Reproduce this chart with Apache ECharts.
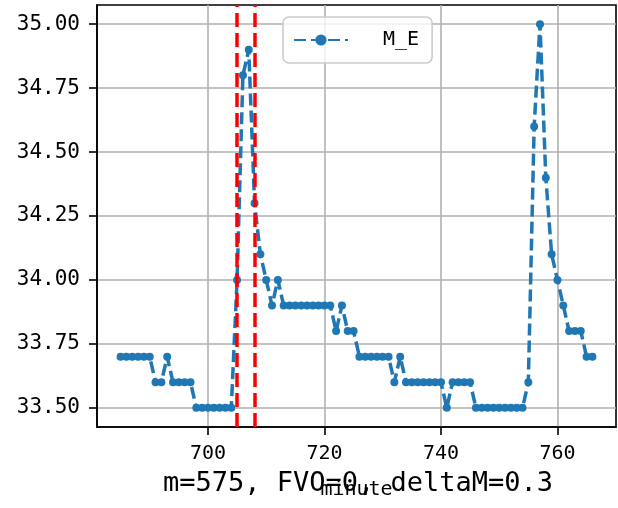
<!DOCTYPE html>
<html>
<head>
<meta charset="utf-8">
<script src="https://cdn.jsdelivr.net/npm/echarts@6/dist/echarts.min.js"></script>
<style>
html, body { margin: 0; padding: 0; background: #fff; }
#main { width: 618px; height: 508px; }
</style>
</head>
<body>
<div id="main"></div>
<script>
var minutes = [
    685, 686, 687, 688, 689, 690, 691, 692, 693, 694,
    695, 696, 697, 698, 699, 700, 701, 702, 703, 704,
    705, 706, 707, 708, 709, 710, 711, 712, 713, 714,
    715, 716, 717, 718, 719, 720, 721, 722, 723, 724,
    725, 726, 727, 728, 729, 730, 731, 732, 733, 734,
    735, 736, 737, 738, 739, 740, 741, 742, 743, 744,
    745, 746, 747, 748, 749, 750, 751, 752, 753, 754,
    755, 756, 757, 758, 759, 760, 761, 762, 763, 764,
    765, 766
];
var mE = [
    33.7, 33.7, 33.7, 33.7, 33.7, 33.7, 33.6, 33.6, 33.7, 33.6,
    33.6, 33.6, 33.6, 33.5, 33.5, 33.5, 33.5, 33.5, 33.5, 33.5,
    34.0, 34.8, 34.9, 34.3, 34.1, 34.0, 33.9, 34.0, 33.9, 33.9,
    33.9, 33.9, 33.9, 33.9, 33.9, 33.9, 33.9, 33.8, 33.9, 33.8,
    33.8, 33.7, 33.7, 33.7, 33.7, 33.7, 33.7, 33.6, 33.7, 33.6,
    33.6, 33.6, 33.6, 33.6, 33.6, 33.6, 33.5, 33.6, 33.6, 33.6,
    33.6, 33.5, 33.5, 33.5, 33.5, 33.5, 33.5, 33.5, 33.5, 33.5,
    33.6, 34.6, 35.0, 34.4, 34.1, 34.0, 33.9, 33.8, 33.8, 33.8,
    33.7, 33.7
];
// red dashed markers
var markMinutes = [705, 708];
var xTicks = [700, 720, 740, 760];
var yTicks = [33.5, 33.75, 34.0, 34.25, 34.5, 34.75, 35.0];
var note = 'm=575, FVO=0, deltaM=0.3';

var mono = 'DejaVu Sans Mono';
var dom = document.getElementById('main');
var myChart = echarts.init(dom, null, {renderer: 'canvas'});

var points = [];
for (var i = 0; i < minutes.length; i++) {
    points.push([minutes[i], mE[i]]);
}

var option = {
    animation: false,
    backgroundColor: '#fff',
    title: {
        text: note,
        left: 163,
        top: 470,
        padding: 0,
        textStyle: {fontFamily: mono, fontSize: 27, fontWeight: 'normal', color: '#000'}
    },
    grid: {
        left: 97, top: 5, width: 519, height: 422,
        show: true,
        borderColor: '#000',
        borderWidth: 1.6,
        outerBoundsMode: 'none'
    },
    legend: {
        left: 283,
        top: 17,
        padding: [13, 13, 13, 10],
        itemWidth: 54,
        itemHeight: 14,
        backgroundColor: 'rgba(255,255,255,0.8)',
        borderColor: '#cccccc',
        borderWidth: 1.6,
        borderRadius: 6,
        textStyle: {fontFamily: mono, fontSize: 20, color: '#000', padding: [0, 0, 0, 30]},
        data: ['M_E']
    },
    xAxis: {
        type: 'value',
        min: 680.95,
        max: 770.05,
        name: 'minute',
        nameLocation: 'middle',
        nameGap: 53,
        nameTextStyle: {fontFamily: mono, fontSize: 20, color: '#000'},
        axisLine: {onZero: false, lineStyle: {color: '#000', width: 1.6}},
        axisTick: {customValues: xTicks, length: 8, lineStyle: {color: '#000', width: 1.6}},
        axisLabel: {customValues: xTicks, margin: 17, fontFamily: mono, fontSize: 20, color: '#000'},
        splitLine: {show: true, lineStyle: {color: '#b0b0b0', width: 1.6}}
    },
    yAxis: {
        type: 'value',
        min: 33.425,
        max: 35.075,
        axisLine: {show: true, onZero: false, lineStyle: {color: '#000', width: 1.6}},
        axisTick: {show: true, customValues: yTicks, length: 8, lineStyle: {color: '#000', width: 1.6}},
        axisLabel: {
            customValues: yTicks, margin: 17, fontFamily: mono, fontSize: 21, color: '#000',
            formatter: function (v) { return v.toFixed(2); }
        },
        splitLine: {show: true, lineStyle: {color: '#b0b0b0', width: 1.6}}
    },
    series: [
        {
            name: 'M_E',
            type: 'line',
            data: points,
            symbol: 'circle',
            symbolSize: 8,
            showAllSymbol: true,
            itemStyle: {color: '#1f77b4'},
            lineStyle: {color: '#1f77b4', width: 3.5, type: [12, 5]},
            markLine: {
                silent: true,
                symbol: 'none',
                label: {show: false},
                lineStyle: {color: '#ff0000', width: 3.5, type: [14, 6]},
                data: markMinutes.map(function (m) { return {xAxis: m}; })
            }
        }
    ]
};

if (option && typeof option === "object") {
    myChart.setOption(option, true);
}
</script>
</body>
</html>
